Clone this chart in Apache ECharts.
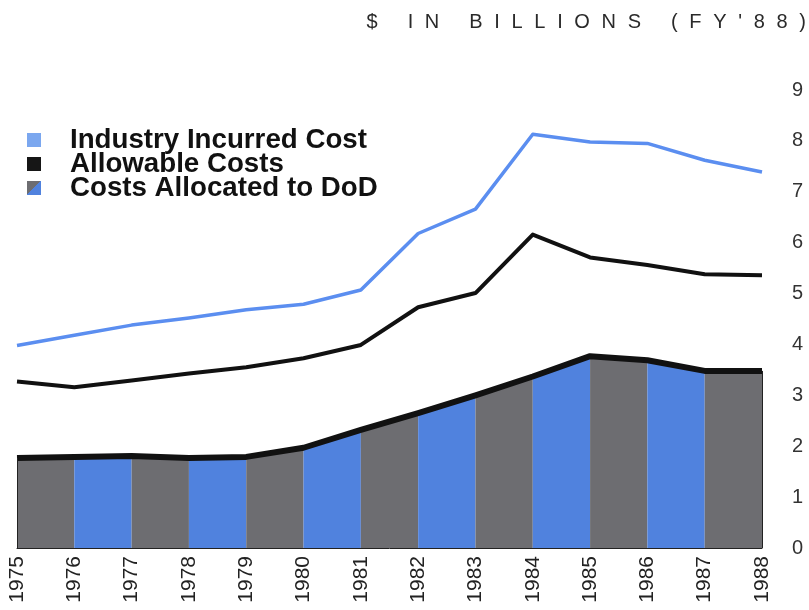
<!DOCTYPE html>
<html>
<head>
<meta charset="utf-8">
<script src="https://cdn.jsdelivr.net/npm/echarts@6/dist/echarts.min.js"></script>
<style>
html,body{margin:0;padding:0;background:#fff;}
#chart{width:809px;height:610px;}
</style>
</head>
<body>
<div id="chart"></div>
<script>
// ---- data ----
const years = ['1975','1976','1977','1978','1979','1980','1981','1982','1983','1984','1985','1986','1987','1988'];
const industryIncurred = [3.98, 4.18, 4.38, 4.52, 4.68, 4.79, 5.07, 6.18, 6.66, 8.13, 7.98, 7.95, 7.62, 7.39];
const allowableCosts   = [3.27, 3.16, 3.29, 3.43, 3.55, 3.73, 3.99, 4.73, 5.01, 6.16, 5.71, 5.56, 5.38, 5.36];
const allocatedToDoD   = [1.77, 1.79, 1.81, 1.77, 1.79, 1.97, 2.32, 2.65, 3.00, 3.37, 3.77, 3.69, 3.48, 3.48];
const yTicks = ['0','1','2','3','4','5','6','7','8','9'];
const titleText = "$\u2003\u2002I\u2002\u200AN\u2003\u2002B\u2002\u200AI\u2002\u200AL\u2002\u200AL\u2002\u200AI\u2002\u200AO\u2002\u200AN\u2002\u200AS\u2003\u2002(\u2002\u200AF\u2002\u200AY\u2002\u200A'\u2002\u200A8\u2002\u200A8\u2002\u200A)";

const GRAY = '#6d6d71';
const BLUE = '#5082de';
const NAME_IND = 'Industry Incurred Cost';
const NAME_ALW = 'Allowable Costs';
const NAME_DOD = 'Costs Allocated to DoD';

// striped area: one segment per year interval
const stripeSeries = [];
for (let i = 0; i < years.length - 1; i++) {
  const seg = allocatedToDoD.map((v, j) => (j === i || j === i + 1) ? v : null);
  stripeSeries.push({
    name: NAME_DOD,
    type: 'line',
    data: seg,
    symbol: 'none',
    connectNulls: false,
    lineStyle: { width: 0, opacity: 0 },
    areaStyle: { color: i % 2 === 0 ? GRAY : BLUE, opacity: 1 },
    z: 1,
    silent: true
  });
}

const chart = echarts.init(document.getElementById('chart'), null, { renderer: 'canvas' });
chart.setOption({
  animation: false,
  backgroundColor: '#ffffff',
  title: {
    text: titleText,
    right: 3,
    top: 12,
    padding: 0,
    textStyle: { fontFamily: 'Liberation Sans, Arial, sans-serif', fontSize: 20, fontWeight: 'normal', color: '#2a2a2a' }
  },
  legend: {
    orient: 'vertical',
    left: 27,
    top: 126,
    padding: 0,
    itemWidth: 14,
    itemHeight: 14,
    itemGap: -4,
    selectedMode: false,
    textStyle: {
      fontFamily: 'Liberation Sans, Arial, sans-serif',
      fontSize: 27.7,
      fontWeight: 'bold',
      color: '#111',
      padding: [0, 0, 0, 24]
    },
    data: [
      { name: NAME_IND, icon: 'rect', itemStyle: { color: '#7ba7ef' } },
      { name: NAME_ALW, icon: 'rect', itemStyle: { color: '#161616' } },
      { name: NAME_DOD, icon: 'rect', itemStyle: {
          color: { type: 'linear', x: 0, y: 0, x2: 1, y2: 1, colorStops: [
            { offset: 0, color: GRAY }, { offset: 0.5, color: GRAY },
            { offset: 0.5, color: BLUE }, { offset: 1, color: BLUE }] } } }
    ]
  },
  grid: { left: 17, right: 47, top: 90, bottom: 62, containLabel: false },
  xAxis: {
    type: 'category',
    data: years,
    boundaryGap: false,
    axisLine: { show: true, lineStyle: { color: '#222', width: 1 } },
    axisTick: { show: false },
    splitLine: { show: false },
    axisLabel: {
      rotate: 90,
      margin: 8,
      fontFamily: 'Liberation Sans, Arial, sans-serif',
      fontSize: 21,
      color: '#222'
    }
  },
  yAxis: {
    type: 'value',
    position: 'right',
    min: 0,
    max: 9,
    interval: 1,
    axisLine: { show: false },
    axisTick: { show: false },
    splitLine: { show: false },
    axisLabel: {
      margin: 30,
      fontFamily: 'Liberation Sans, Arial, sans-serif',
      fontSize: 20,
      color: '#333',
      formatter: function (v) { return yTicks[Math.round(v)]; }
    }
  },
  series: stripeSeries.concat([
    {
      name: NAME_DOD,
      type: 'line',
      data: allocatedToDoD,
      symbol: 'none',
      lineStyle: { color: '#111', width: 6, join: 'round' },
      z: 3,
      markLine: {
        silent: true,
        symbol: 'none',
        label: { show: false },
        lineStyle: { color: '#222', width: 1, type: 'solid' },
        data: [
          [{ coord: [years[0], 0] }, { coord: [years[0], allocatedToDoD[0]] }],
          [{ coord: [years[years.length - 1], 0] }, { coord: [years[years.length - 1], allocatedToDoD[allocatedToDoD.length - 1]] }]
        ]
      }
    },
    {
      name: NAME_ALW,
      type: 'line',
      data: allowableCosts,
      symbol: 'none',
      lineStyle: { color: '#111', width: 4, join: 'round' },
      z: 3
    },
    {
      name: NAME_IND,
      type: 'line',
      data: industryIncurred,
      symbol: 'none',
      lineStyle: { color: '#5b8ef0', width: 3.5, join: 'round' },
      z: 3
    }
  ])
});
</script>
</body>
</html>
